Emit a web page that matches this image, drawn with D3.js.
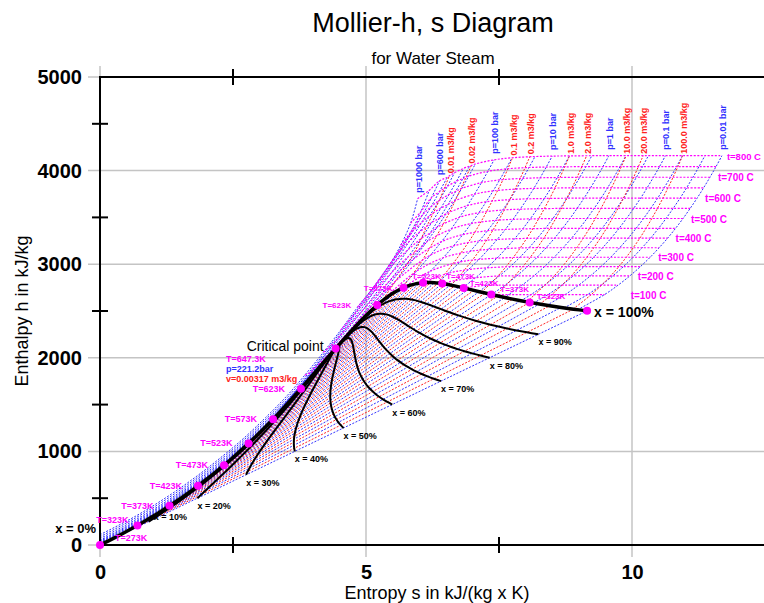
<!DOCTYPE html>
<html>
<head>
<meta charset="utf-8">
<script src="https://cdn.jsdelivr.net/npm/d3@7"></script>
<style>
  body { margin: 0; background: #fff; }
  text { font-family: "Liberation Sans", Arial, Helvetica, sans-serif; }
</style>
</head>
<body>
<svg id="chart" width="764" height="603"></svg>
<script>
// ---- saturation table (by temperature, deg C) ----
const satT = [0.01, 10, 20, 30, 40, 50, 60, 70, 80, 90, 100, 110, 120, 130, 140, 150, 160, 170, 180, 190,
  200, 210, 220, 230, 240, 250, 260, 270, 280, 290, 300, 310, 320, 330, 340, 350, 360, 370, 374.14];
const satHf = [0, 42.0, 84.0, 125.8, 167.6, 209.3, 251.1, 293.0, 334.9, 376.9, 419.0, 461.3, 503.7, 546.3, 589.1, 632.2, 675.6, 719.2, 763.2, 807.6,
  852.4, 897.8, 943.6, 990.1, 1037.3, 1085.4, 1134.4, 1184.5, 1236.0, 1289.1, 1344.0, 1401.3, 1461.5, 1525.3, 1594.2, 1670.6, 1760.5, 1890.5, 2099.3];
const satHg = [2501.4, 2519.8, 2538.1, 2556.3, 2574.3, 2592.1, 2609.6, 2626.8, 2643.7, 2660.1, 2676.1, 2691.5, 2706.3, 2720.5, 2733.9, 2746.5, 2758.1, 2768.7, 2778.2, 2786.4,
  2793.2, 2798.5, 2802.1, 2804.0, 2803.8, 2801.5, 2796.6, 2789.7, 2779.6, 2766.2, 2749.0, 2727.3, 2700.1, 2665.9, 2622.0, 2563.9, 2481.0, 2332.1, 2099.3];
const satSf = [0, 0.151, 0.2966, 0.4369, 0.5725, 0.7038, 0.8312, 0.9549, 1.0753, 1.1925, 1.3069, 1.4185, 1.5276, 1.6344, 1.7391, 1.8418, 1.9427, 2.0419, 2.1396, 2.2359,
  2.3309, 2.4248, 2.5178, 2.6099, 2.7015, 2.7927, 2.8838, 2.9751, 3.0668, 3.1594, 3.2534, 3.3493, 3.448, 3.5507, 3.6594, 3.7777, 3.9147, 4.1106, 4.4298];
const satSg = [9.1562, 8.9008, 8.6672, 8.4533, 8.257, 8.0763, 7.9096, 7.7553, 7.6122, 7.4791, 7.3549, 7.2387, 7.1296, 7.0269, 6.9299, 6.8379, 6.7502, 6.6663, 6.5857, 6.5079,
  6.4323, 6.3585, 6.2861, 6.2146, 6.1437, 6.073, 6.0019, 5.9301, 5.8571, 5.7821, 5.7045, 5.623, 5.5362, 5.4417, 5.3357, 5.2112, 5.0526, 4.7971, 4.4298];

// marked temperatures on the saturation lines
const markedT = [0.01, 50, 100, 150, 200, 250, 300, 350];
const qualities = [0.1, 0.2, 0.3, 0.4, 0.5, 0.6, 0.7, 0.8, 0.9];

// ---- superheated / supercritical isobars ----
const isoTemps = [100, 150, 200, 250, 300, 350, 400, 450, 500, 550, 600, 650, 700, 750, 800];
const lowPressureH = [2676, 2776, 2875, 2974, 3074, 3176, 3278, 3382, 3488, 3596, 3705, 3816, 3929, 4043, 4159];
const pressures = [1000, 800, 600, 500, 400, 300, 250, 200, 100, 50, 20, 10, 5, 2, 1, 0.5, 0.2, 0.1, 0.05, 0.02, 0.01];
const labelledPressures = [1000, 600, 100, 10, 1, 0.1, 0.01];
const _ = null;
const satVapS = [_, _, _, _, _, _, _, 4.927, 5.614, 5.973, 6.341, 6.587, 6.821, 7.127, 7.359, 7.593, 7.907, 8.149, 8.395, 8.723, 8.975];
const satVapH = [_, _, _, _, _, _, _, 2410, 2725, 2794, 2799, 2778, 2749, 2707, 2675, 2645, 2609, 2584, 2561, 2533, 2514];
const isobarS = [
  [_, _, _, _, _, _, 3.85, 4.20, 4.53, 4.84, 5.15, 5.42, 5.65, 5.84, 5.97],
  [_, _, _, _, _, _, 3.91, 4.30, 4.70, 5.06, 5.37, 5.63, 5.85, 6.03, 6.19],
  [_, _, _, _, _, _, 3.98, 4.42, 4.92, 5.33, 5.63, 5.87, 6.06, 6.23, 6.38],
  [_, _, _, _, _, _, 4.00, 4.59, 5.17, 5.54, 5.82, 6.04, 6.22, 6.38, 6.53],
  [_, _, _, _, _, _, 4.114, 4.946, 5.470, 5.780, 6.011, 6.200, 6.375, 6.530, 6.666],
  [_, _, _, _, _, _, 4.473, 5.442, 5.796, 6.040, 6.234, 6.405, 6.561, 6.702, 6.833],
  [_, _, _, _, _, _, 5.142, 5.676, 6.007, 6.210, 6.380, 6.540, 6.685, 6.820, 6.945],
  [_, _, _, _, _, _, 5.554, 5.902, 6.140, 6.335, 6.505, 6.658, 6.799, 6.930, 7.054],
  [_, _, _, _, _, 5.944, 6.212, 6.419, 6.597, 6.756, 6.903, 7.040, 7.169, 7.291, 7.408],
  [_, _, _, _, 6.208, 6.449, 6.646, 6.819, 6.976, 7.122, 7.259, 7.390, 7.512, 7.630, 7.744],
  [_, _, _, 6.545, 6.766, 6.956, 7.127, 7.284, 7.432, 7.570, 7.702, 7.828, 7.949, 8.064, 8.177],
  [_, _, 6.694, 6.925, 7.123, 7.301, 7.465, 7.619, 7.762, 7.898, 8.029, 8.154, 8.273, 8.388, 8.500],
  [_, _, 7.059, 7.271, 7.460, 7.633, 7.794, 7.945, 8.087, 8.222, 8.352, 8.476, 8.595, 8.710, 8.821],
  [_, 7.280, 7.507, 7.709, 7.893, 8.064, 8.222, 8.371, 8.513, 8.648, 8.777, 8.900, 9.019, 9.134, 9.245],
  [7.361, 7.613, 7.834, 8.033, 8.216, 8.385, 8.544, 8.692, 8.834, 8.968, 9.098, 9.221, 9.340, 9.455, 9.565],
  [7.681, 7.933, 8.154, 8.353, 8.536, 8.705, 8.864, 9.012, 9.154, 9.288, 9.418, 9.541, 9.660, 9.775, 9.885],
  [8.104, 8.356, 8.577, 8.776, 8.959, 9.128, 9.287, 9.435, 9.577, 9.711, 9.841, 9.964, 10.083, 10.198, 10.308],
  [8.424, 8.676, 8.897, 9.096, 9.279, 9.448, 9.607, 9.755, 9.897, 10.031, 10.161, 10.284, 10.403, 10.518, 10.628],
  [8.744, 8.996, 9.217, 9.416, 9.599, 9.768, 9.927, 10.075, 10.217, 10.351, 10.481, 10.604, 10.723, 10.838, 10.948],
  [9.166, 9.418, 9.639, 9.838, 10.021, 10.190, 10.349, 10.497, 10.639, 10.773, 10.903, 11.026, 11.145, 11.260, 11.370],
  [9.486, 9.738, 9.959, 10.158, 10.341, 10.510, 10.669, 10.817, 10.959, 11.093, 11.223, 11.346, 11.465, 11.580, 11.690],
];
// null row -> near ideal gas, enthalpy taken from lowPressureH
const isobarH = [
  [_, _, _, _, _, _, 1815, 2060, 2300, 2540, 2760, 2975, 3200, 3440, 3700],
  [_, _, _, _, _, _, 1830, 2110, 2410, 2690, 2935, 3150, 3350, 3560, 3790],
  [_, _, _, _, _, _, 1850, 2175, 2560, 2875, 3130, 3345, 3525, 3710, 3890],
  [_, _, _, _, _, _, 1875, 2285, 2720, 3020, 3248, 3442, 3612, 3775, 3930],
  [_, _, _, _, _, _, 1931, 2513, 2903, 3149, 3346, 3520, 3681, 3833, 3979],
  [_, _, _, _, _, _, 2151, 2821, 3081, 3275, 3444, 3598, 3746, 3887, 4024],
  [_, _, _, _, _, _, 2580, 2950, 3162, 3336, 3491, 3637, 3777, 3914, 4047],
  [_, _, _, _, _, _, 2818, 3060, 3238, 3394, 3538, 3675, 3809, 3940, 4070],
  [_, _, _, _, _, 2923, 3097, 3241, 3374, 3501, 3625, 3748, 3871, 3993, 4115],
  [_, _, _, _, 2925, 3068, 3196, 3316, 3434, 3550, 3667, 3783, 3900, 4018, 4137],
  [_, _, _, 2903, 3024, 3137, 3248, 3358, 3468, 3579, 3690, 3803, 3917, 4033, 4150],
  [_, _, 2828, 2943, 3051, 3158, 3264, 3371, 3479, 3588, 3698, 3810, 3923, 4038, 4155],
  [_, _, 2855, 2961, 3064, 3168, 3272, 3377, 3484, 3592, 3702, 3813, 3926, 4040, 4157],
  null, null, null, null, null, null, null, null,
];
// compressed liquid part of the supercritical isobars (first seven pressures)
const liquidT = [0, 50, 100, 150, 200, 250, 300, 350];
const liquidS = [
  [0.00, 0.66, 1.25, 1.77, 2.25, 2.70, 3.11, 3.50],
  [0.00, 0.665, 1.26, 1.78, 2.265, 2.715, 3.13, 3.53],
  [0.00, 0.67, 1.27, 1.79, 2.28, 2.73, 3.15, 3.56],
  [0.00, 0.675, 1.275, 1.80, 2.29, 2.74, 3.165, 3.575],
  [0.00, 0.68, 1.28, 1.81, 2.30, 2.75, 3.18, 3.59],
  [0.00, 0.69, 1.29, 1.82, 2.31, 2.76, 3.20, 3.63],
  [0.00, 0.695, 1.295, 1.825, 2.315, 2.765, 3.21, 3.66],
];
const liquidH = [
  [110, 305, 510, 715, 925, 1140, 1360, 1585],
  [88, 288, 493, 700, 912, 1128, 1350, 1580],
  [68, 270, 475, 685, 898, 1115, 1340, 1575],
  [50, 255, 462, 672, 886, 1105, 1333, 1577],
  [40, 245, 452, 661, 876, 1096, 1328, 1580],
  [30, 235, 444, 654, 870, 1093, 1330, 1608],
  [25, 230, 440, 651, 867, 1091, 1332, 1625],
];

// ---- isochores ----
const volT = [100, 200, 300, 400, 500, 600, 700, 800];
const volumes = [0.01, 0.02, 0.1, 0.2, 1, 2, 10, 20, 100];
const volStartS = [5.29, 5.665, 6.345, 6.59, 7.17, 7.44, 8.02, 8.266, 8.89];
const volStartH = [2600, 2739, 2799, 2777, 2700, 2665, 2597, 2573, 2521];
const volS = [
  [_, _, _, 5.554, 5.91, 6.14, 6.377, 6.57],
  [_, _, _, 6.00, 6.33, 6.57, 6.78, 6.98],
  [_, _, 6.64, 6.92, 7.163, 7.37, 7.577, 7.756],
  [_, 6.68, 7.005, 7.269, 7.499, 7.702, 7.901, 8.082],
  [_, 7.474, 7.767, 8.021, 8.247, 8.455, 8.647, 8.827],
  [_, 7.794, 8.087, 8.341, 8.567, 8.775, 8.967, 9.147],
  [8.173, 8.537, 8.830, 9.084, 9.310, 9.518, 9.710, 9.890],
  [8.493, 8.857, 9.150, 9.404, 9.630, 9.838, 10.030, 10.210],
  [9.235, 9.599, 9.892, 10.146, 10.372, 10.580, 10.772, 10.952],
];
const volH = [
  [_, _, _, 2818, 3126, 3402, 3682, 3950],
  [_, _, _, 2990, 3305, 3554, 3805, 4055],
  [_, _, 3010, 3230, 3455, 3674, 3905, 4140],
  [_, 2825, 3048, 3258, 3474, 3690, 3920, 4152],
  [_, 2870, 3071, 3276, 3487, 3704, 3928, 4158],
  [_, 2874, 3073, 3277, 3488, 3705, 3929, 4159],
  [2676, 2875, 3074, 3278, 3488, 3705, 3929, 4159],
  [2676, 2875, 3074, 3278, 3488, 3705, 3929, 4159],
  [2676, 2875, 3074, 3278, 3488, 3705, 3929, 4159],
];
const labelledTemps = [100, 200, 300, 400, 500, 600, 700, 800];

const hTicks = [0, 1000, 2000, 3000, 4000, 5000];
const hMinor = [500, 1500, 2500, 3500, 4500];
const sTicks = [0, 5, 10];
const sMinor = [2.5, 7.5];

// ---- colours ----
const BLUE = '#3030ff';
const RED = '#ff2020';
const MAGENTA = '#ff00ff';
const GRID = '#c4c4c4';

const svg = d3.select('#chart');
const x = d3.scaleLinear().domain([0, 12.5]).range([100, 765]);
const y = d3.scaleLinear().domain([0, 5000]).range([545, 77]);

const straight = d3.line().x((d) => x(d[0])).y((d) => y(d[1]));
const smooth = d3.line()
  .x((d) => x(d[0]))
  .y((d) => y(d[1]))
  .curve(d3.curveCatmullRom.alpha(0.5));

// grid
const grid = svg.append('g').attr('class', 'grid');
grid.selectAll('line.h')
  .data(hTicks)
  .enter()
  .append('line')
  .attr('x1', 88).attr('x2', 764)
  .attr('y1', (d) => y(d)).attr('y2', (d) => y(d))
  .attr('stroke', GRID).attr('stroke-width', 1.5);
grid.selectAll('line.v')
  .data(sTicks)
  .enter()
  .append('line')
  .attr('x1', (d) => x(d)).attr('x2', (d) => x(d))
  .attr('y1', 66).attr('y2', 557)
  .attr('stroke', GRID).attr('stroke-width', 1.5);

// tick labels through d3 axes
const yAxis = svg.append('g')
  .attr('transform', 'translate(100,0)')
  .call(d3.axisLeft(y).tickValues(hTicks).tickFormat(d3.format('d')).tickSize(0).tickPadding(18));
const xAxis = svg.append('g')
  .attr('transform', 'translate(0,545)')
  .call(d3.axisBottom(x).tickValues(sTicks).tickFormat(d3.format('d')).tickSize(0).tickPadding(20));
[yAxis, xAxis].forEach((g) => {
  g.select('.domain').remove();
  g.selectAll('text')
    .attr('font-size', 20)
    .attr('font-weight', 'bold')
    .attr('fill', '#000')
    .style('font-family', '"Liberation Sans", Arial, sans-serif');
});

const mesh = svg.append('g').attr('class', 'mesh').attr('fill', 'none');

// wet region isobars (straight lines between the saturation curves)
satT.slice(0, -1).forEach((t, i) => {
  mesh.append('path')
    .attr('d', straight([[satSf[i], satHf[i]], [satSg[i], satHg[i]]]))
    .attr('stroke', i % 2 ? RED : BLUE)
    .attr('stroke-width', 1)
    .attr('stroke-dasharray', '2,1.5');
});

// isobars
const isobarPoints = pressures.map((p, r) => {
  const pts = [];
  if (r < liquidS.length) {
    liquidT.forEach((t, k) => pts.push([liquidS[r][k], liquidH[r][k]]));
  }
  if (satVapS[r] !== null) pts.push([satVapS[r], satVapH[r]]);
  isobarS[r].forEach((s, j) => {
    if (s === null) return;
    const h = isobarH[r] ? isobarH[r][j] : lowPressureH[j];
    pts.push([s, h]);
  });
  return pts;
});

isobarPoints.forEach((pts) => {
  mesh.append('path')
    .attr('d', smooth(pts))
    .attr('stroke', BLUE)
    .attr('stroke-width', 1)
    .attr('stroke-dasharray', '2,1.5');
});

// isochores
const isochorePoints = volumes.map((v, r) => {
  const pts = [[volStartS[r], volStartH[r]]];
  volS[r].forEach((s, j) => {
    if (s !== null) pts.push([s, volH[r][j]]);
  });
  return pts;
});
isochorePoints.forEach((pts) => {
  mesh.append('path')
    .attr('d', smooth(pts))
    .attr('stroke', RED)
    .attr('stroke-width', 1)
    .attr('stroke-dasharray', '2,1.5');
});

// isotherms
const isothermPoints = isoTemps.map((t, j) => {
  const pts = [];
  const k = satT.indexOf(t);
  if (k >= 0) pts.push([satSg[k], satHg[k]]);
  pressures.forEach((p, r) => {
    const s = isobarS[r][j];
    if (s === null) return;
    pts.push([s, isobarH[r] ? isobarH[r][j] : lowPressureH[j]]);
  });
  return pts;
});
isothermPoints.forEach((pts) => {
  mesh.append('path')
    .attr('d', smooth(pts))
    .attr('stroke', MAGENTA)
    .attr('stroke-width', 1.2)
    .attr('stroke-dasharray', '2,1.5');
});

// quality lines
const curves = svg.append('g').attr('fill', 'none').attr('stroke', '#000');
qualities.forEach((q) => {
  const pts = satT.map((t, i) => [
    satSf[i] + q * (satSg[i] - satSf[i]),
    satHf[i] + q * (satHg[i] - satHf[i]),
  ]);
  curves.append('path')
    .attr('d', smooth(pts))
    .attr('stroke-width', 2);
  const end = pts[0];
  const first = q < 0.15;
  svg.append('text')
    .attr('x', x(end[0]) + (first ? 5 : 0))
    .attr('y', y(end[1]) + (first ? -2 : 11))
    .attr('font-size', 9)
    .attr('font-weight', 'bold')
    .text(`x = ${Math.round(q * 100)}%`);
});

// saturation curve
const dome = satT.map((t, i) => [satSf[i], satHf[i]])
  .concat(satT.map((t, i) => [satSg[i], satHg[i]]).reverse().slice(1));
curves.append('path')
  .attr('d', smooth(dome))
  .attr('stroke-width', 3.5);

// axes frame
const axis = svg.append('g').attr('stroke', '#000').attr('stroke-width', 2);
axis.append('line').attr('x1', 100).attr('x2', 100).attr('y1', 76).attr('y2', 546);
axis.append('line').attr('x1', 99).attr('x2', 764).attr('y1', 545).attr('y2', 545);
axis.append('line').attr('x1', 99).attr('x2', 764).attr('y1', 77).attr('y2', 77);
axis.selectAll('line.hm')
  .data(hMinor)
  .enter()
  .append('line')
  .attr('x1', 92).attr('x2', 108)
  .attr('y1', (d) => y(d)).attr('y2', (d) => y(d));
axis.selectAll('line.sm')
  .data(sMinor)
  .enter()
  .append('line')
  .attr('x1', (d) => x(d)).attr('x2', (d) => x(d))
  .attr('y1', 537).attr('y2', 553);
axis.selectAll('line.st')
  .data(sMinor)
  .enter()
  .append('line')
  .attr('x1', (d) => x(d)).attr('x2', (d) => x(d))
  .attr('y1', 69).attr('y2', 85);

// saturation markers
const markers = [];
markedT.forEach((t) => {
  const i = satT.indexOf(t);
  markers.push({ t, s: satSf[i], h: satHf[i], side: 'liq' });
  markers.push({ t, s: satSg[i], h: satHg[i], side: 'vap' });
});
const crit = satT.length - 1;
markers.push({ t: 374.14, s: satSf[crit], h: satHf[crit], side: 'crit' });
svg.append('g')
  .selectAll('circle')
  .data(markers)
  .enter()
  .append('circle')
  .attr('cx', (d) => x(d.s))
  .attr('cy', (d) => y(d.h))
  .attr('r', 4)
  .attr('fill', MAGENTA);

const small = svg.append('g')
  .attr('font-size', 9)
  .attr('font-weight', 'bold');

markers.filter((d) => d.side === 'liq').forEach((d) => {
  const label = `T=${Math.round(d.t + 273)}K`;
  const cx = x(d.s);
  const cy = y(d.h);
  const node = small.append('text').attr('fill', MAGENTA).text(label);
  if (d.t < 1) node.attr('x', cx + 15).attr('y', cy - 4);
  else if (d.t === 50) node.attr('x', cx - 9).attr('y', cy - 2).attr('text-anchor', 'end');
  else node.attr('x', cx - 16).attr('y', cy + 3).attr('text-anchor', 'end');
});
// vapour side labels sit close together, so they are a little smaller
markers.filter((d) => d.side === 'vap' && d.t > 1).forEach((d) => {
  const label = `T=${Math.round(d.t + 273)}K`;
  const cx = x(d.s);
  const cy = y(d.h);
  const node = small.append('text').attr('fill', MAGENTA).attr('font-size', 8).text(label);
  if (d.t >= 300) node.attr('x', cx - (d.t === 350 ? 26 : 11)).attr('y', cy + 3).attr('text-anchor', 'end');
  else if (d.t === 250) node.attr('x', cx - 11).attr('y', cy - 4);
  else if (d.t === 200) node.attr('x', cx + 4).attr('y', cy - 5);
  else if (d.t === 150) node.attr('x', cx + 6).attr('y', cy - 2);
  else if (d.t === 100) node.attr('x', cx + 9).attr('y', cy - 3);
  else node.attr('x', cx + 7).attr('y', cy - 3);
});

// critical point annotation
const cx0 = x(satSf[crit]);
const cy0 = y(satHf[crit]);
svg.append('text')
  .attr('x', cx0 - 12).attr('y', cy0 + 2)
  .attr('text-anchor', 'end')
  .attr('font-size', 14)
  .text('Critical point');
small.append('text').attr('x', 226).attr('y', cy0 + 13).attr('fill', MAGENTA).text('T=647.3K');
small.append('text').attr('x', 226).attr('y', cy0 + 23).attr('fill', BLUE).text('p=221.2bar');
small.append('text').attr('x', 226).attr('y', cy0 + 33).attr('fill', RED).text('v=0.00317 m3/kg');

svg.append('text')
  .attr('x', x(0) - 4).attr('y', y(0) - 12)
  .attr('text-anchor', 'end')
  .attr('font-size', 13)
  .attr('font-weight', 'bold')
  .text('x = 0%');
svg.append('text')
  .attr('x', x(satSg[0]) + 7).attr('y', y(satHg[0]) + 6)
  .attr('font-size', 14)
  .attr('font-weight', 'bold')
  .text('x = 100%');

// isobar / isochore labels at top
pressures.forEach((p, r) => {
  if (!labelledPressures.includes(p)) return;
  const pts = isobarPoints[r];
  const end = pts[pts.length - 1];
  small.append('text')
    .attr('transform', `translate(${x(end[0]) + 4},${y(end[1]) - 6}) rotate(-90)`)
    .attr('fill', BLUE)
    .text(`p=${p} bar`);
});
volumes.forEach((v, r) => {
  const pts = isochorePoints[r];
  const end = pts[pts.length - 1];
  small.append('text')
    .attr('transform', `translate(${x(end[0]) + 4},${y(end[1]) - 2}) rotate(-90)`)
    .attr('fill', RED)
    .text(`${v < 1 ? v : v.toFixed(1)} m3/kg`);
});
isothermPoints.forEach((pts, j) => {
  const t = isoTemps[j];
  if (!labelledTemps.includes(t)) return;
  const end = pts[pts.length - 1];
  small.append('text')
    .attr('x', x(end[0]) + (t === 100 ? 26 : t === 800 ? 5 : 8))
    .attr('y', y(end[1]) + 4)
    .attr('fill', MAGENTA)
    .attr('font-size', t === 800 ? 9.5 : 10)
    .text(`t=${t} C`);
});

// titles
svg.append('text')
  .attr('x', 433).attr('y', 32)
  .attr('text-anchor', 'middle')
  .attr('font-size', 27)
  .text('Mollier-h, s Diagram');
svg.append('text')
  .attr('x', 433).attr('y', 64)
  .attr('text-anchor', 'middle')
  .attr('font-size', 17)
  .text('for Water Steam');
svg.append('text')
  .attr('x', 437).attr('y', 599)
  .attr('text-anchor', 'middle')
  .attr('font-size', 18)
  .text('Entropy s in kJ/(kg x K)');
svg.append('text')
  .attr('transform', 'translate(28,311) rotate(-90)')
  .attr('text-anchor', 'middle')
  .attr('font-size', 18)
  .text('Enthalpy h in kJ/kg');
</script>
</body>
</html>
